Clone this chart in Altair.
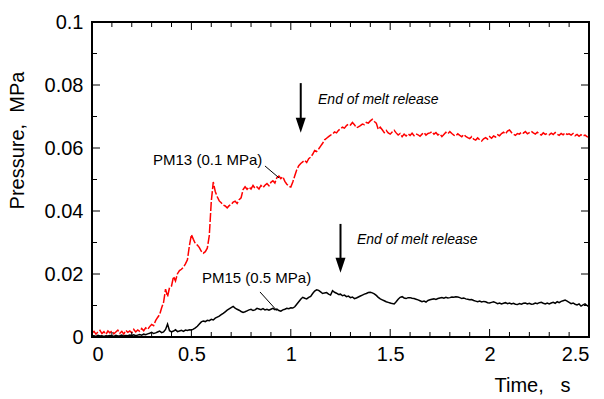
import altair as alt
import pandas as pd

# Sampling times of both pressure records, seconds
time_s = [round(i * 0.01, 2) for i in range(251)]

# PM13 (0.1 MPa) pressure, MPa
pm13 = [
    0.0012, 0.0018, 0.0009, 0.0016, 0.0021, 0.0011, 0.0017, 0.0008, 0.0019, 0.0013,
    0.0020, 0.0010, 0.0016, 0.0022, 0.0012, 0.0018, 0.0009, 0.0021, 0.0015, 0.0019,
    0.0013, 0.0024, 0.0016, 0.0022, 0.0018, 0.0027, 0.0020, 0.0029, 0.0024, 0.0033,
    0.0040, 0.0036, 0.0052, 0.0062, 0.0071, 0.0092, 0.0110, 0.0152, 0.0128, 0.0157,
    0.0162, 0.0192, 0.0178, 0.0201, 0.0211, 0.0215, 0.0222, 0.0232, 0.0245, 0.0290,
    0.0325, 0.0310, 0.0296, 0.0292, 0.0284, 0.0272, 0.0266, 0.0271, 0.0282, 0.0322,
    0.0430, 0.0492, 0.0462, 0.0445, 0.0432, 0.0426, 0.0419, 0.0416, 0.0410, 0.0417,
    0.0421, 0.0428, 0.0431, 0.0424, 0.0436, 0.0442, 0.0468, 0.0477, 0.0469, 0.0476,
    0.0470, 0.0481, 0.0472, 0.0476, 0.0470, 0.0481, 0.0474, 0.0482, 0.0487, 0.0480,
    0.0491, 0.0496, 0.0489, 0.0506, 0.0511, 0.0503, 0.0509, 0.0494, 0.0485, 0.0478,
    0.0476, 0.0492, 0.0512, 0.0531, 0.0544, 0.0551, 0.0556, 0.0561, 0.0554, 0.0566,
    0.0571, 0.0580, 0.0592, 0.0589, 0.0597, 0.0606, 0.0615, 0.0626, 0.0631, 0.0636,
    0.0641, 0.0644, 0.0651, 0.0648, 0.0656, 0.0661, 0.0666, 0.0663, 0.0671, 0.0676,
    0.0673, 0.0681, 0.0674, 0.0664, 0.0667, 0.0671, 0.0676, 0.0674, 0.0681, 0.0679,
    0.0686, 0.0691, 0.0684, 0.0679, 0.0659, 0.0666, 0.0658, 0.0649, 0.0656, 0.0648,
    0.0644, 0.0651, 0.0656, 0.0648, 0.0641, 0.0646, 0.0636, 0.0644, 0.0638, 0.0645,
    0.0640, 0.0647, 0.0639, 0.0645, 0.0642, 0.0637, 0.0644, 0.0649, 0.0641, 0.0646,
    0.0648, 0.0652, 0.0644, 0.0649, 0.0641, 0.0645, 0.0636, 0.0643, 0.0650, 0.0645,
    0.0652, 0.0646, 0.0641, 0.0638, 0.0645, 0.0640, 0.0636, 0.0643, 0.0637, 0.0633,
    0.0630, 0.0636, 0.0628, 0.0625, 0.0632, 0.0626, 0.0622, 0.0629, 0.0633, 0.0628,
    0.0636, 0.0631, 0.0638, 0.0635, 0.0642, 0.0639, 0.0646, 0.0650, 0.0645, 0.0654,
    0.0657, 0.0649, 0.0644, 0.0640, 0.0646, 0.0644, 0.0650, 0.0647, 0.0652, 0.0645,
    0.0649, 0.0653, 0.0648, 0.0644, 0.0650, 0.0645, 0.0641, 0.0648, 0.0643, 0.0646,
    0.0642, 0.0647, 0.0643, 0.0649, 0.0644, 0.0640, 0.0646, 0.0642, 0.0648, 0.0643,
    0.0645, 0.0641, 0.0646, 0.0639, 0.0643, 0.0637, 0.0642, 0.0638, 0.0641, 0.0636,
    0.0634,
]

# PM15 (0.5 MPa) pressure, MPa
pm15 = [
    0.0003, 0.0004, 0.0002, 0.0005, 0.0003, 0.0004, 0.0002, 0.0004, 0.0003, 0.0005,
    0.0004, 0.0002, 0.0005, 0.0003, 0.0004, 0.0006, 0.0003, 0.0005, 0.0004, 0.0006,
    0.0005, 0.0007, 0.0004, 0.0006, 0.0008, 0.0006, 0.0009, 0.0007, 0.0010, 0.0012,
    0.0015, 0.0011, 0.0013, 0.0016, 0.0019, 0.0014, 0.0016, 0.0024, 0.0041, 0.0020,
    0.0016, 0.0019, 0.0023, 0.0017, 0.0019, 0.0021, 0.0018, 0.0022, 0.0021, 0.0023,
    0.0022, 0.0025, 0.0029, 0.0034, 0.0041, 0.0048, 0.0051, 0.0049, 0.0053, 0.0052,
    0.0056, 0.0054, 0.0060, 0.0063, 0.0066, 0.0071, 0.0075, 0.0080, 0.0085, 0.0089,
    0.0093, 0.0097, 0.0092, 0.0088, 0.0085, 0.0081, 0.0078, 0.0080, 0.0083, 0.0086,
    0.0088, 0.0084, 0.0086, 0.0091, 0.0089, 0.0087, 0.0090, 0.0086, 0.0088, 0.0085,
    0.0088, 0.0091, 0.0087, 0.0089, 0.0084, 0.0082, 0.0086, 0.0088, 0.0091, 0.0090,
    0.0093, 0.0092, 0.0096, 0.0104, 0.0112, 0.0120, 0.0126, 0.0123, 0.0121, 0.0126,
    0.0129, 0.0138, 0.0146, 0.0150, 0.0148, 0.0143, 0.0138, 0.0140, 0.0141, 0.0136,
    0.0133, 0.0147, 0.0142, 0.0139, 0.0135, 0.0136, 0.0131, 0.0133, 0.0128, 0.0130,
    0.0125, 0.0127, 0.0122, 0.0124, 0.0127, 0.0130, 0.0133, 0.0136, 0.0138, 0.0141,
    0.0142, 0.0140, 0.0137, 0.0132, 0.0126, 0.0121, 0.0118, 0.0115, 0.0112, 0.0110,
    0.0108, 0.0106, 0.0105, 0.0112, 0.0120, 0.0126, 0.0128, 0.0124, 0.0122, 0.0125,
    0.0125, 0.0123, 0.0122, 0.0120, 0.0118, 0.0115, 0.0112, 0.0114, 0.0111, 0.0116,
    0.0118, 0.0120, 0.0121, 0.0119, 0.0122, 0.0124, 0.0125, 0.0123, 0.0126, 0.0124,
    0.0125, 0.0127, 0.0126, 0.0128, 0.0127, 0.0125, 0.0122, 0.0124, 0.0121, 0.0120,
    0.0118, 0.0119, 0.0116, 0.0114, 0.0112, 0.0114, 0.0111, 0.0113, 0.0112, 0.0109,
    0.0108, 0.0110, 0.0112, 0.0109, 0.0106, 0.0108, 0.0105, 0.0107, 0.0109, 0.0106,
    0.0108, 0.0105, 0.0107, 0.0104, 0.0103, 0.0106, 0.0104, 0.0107, 0.0108, 0.0105,
    0.0107, 0.0104, 0.0105, 0.0108, 0.0106, 0.0109, 0.0110, 0.0107, 0.0105, 0.0108,
    0.0105, 0.0108, 0.0110, 0.0107, 0.0112, 0.0109, 0.0113, 0.0115, 0.0117, 0.0114,
    0.0110, 0.0106, 0.0108, 0.0104, 0.0102, 0.0105, 0.0098, 0.0102, 0.0105, 0.0100,
    0.0096,
]

# Axis ticks
x_major = [0, 0.5, 1, 1.5, 2, 2.5]
x_minor = [0.1, 0.2, 0.3, 0.4, 0.6, 0.7, 0.8, 0.9, 1.1, 1.2, 1.3, 1.4,
           1.6, 1.7, 1.8, 1.9, 2.1, 2.2, 2.3, 2.4]
y_major = [0, 0.02, 0.04, 0.06, 0.08, 0.1]
y_minor = [0.01, 0.03, 0.05, 0.07, 0.09]

# Annotations: "end of melt release" arrows (time, shaft top, head base, head centre)
arrow_t = [1.05, 1.25]
arrow_top = [0.0806, 0.0359]
arrow_base = [0.0690, 0.0250]
arrow_head = [0.0672, 0.0228]
note_t = [1.137, 1.333]
note_p = [0.0752, 0.0308]
note_text = ["End of melt release", "End of melt release"]

# Curve labels and their leader lines
label_t = [0.307, 0.553]
label_p = [0.0562, 0.0187]
label_text = ["PM13 (0.1 MPa)", "PM15 (0.5 MPa)"]
leader_t1 = [0.870, 0.845]
leader_p1 = [0.0543, 0.0143]
leader_t2 = [0.941, 0.931]
leader_p2 = [0.0505, 0.0083]

W, H = 497, 315
FONT = "Liberation Sans"

xs = alt.Scale(domain=[0, 2.5], nice=False, zero=False)
ys = alt.Scale(domain=[0, 0.1], nice=False, zero=False)

red_df = pd.DataFrame({"t": time_s, "p": pm13})
black_df = pd.DataFrame({"t": time_s, "p": pm15})

x_axis = alt.Axis(
    values=x_major, format="~g", ticks=False, domain=False, grid=False,
    labelFont=FONT, labelFontSize=20, labelColor="black", labelPadding=7,
    title="Time,\u00a0\u00a0\u00a0s", titleFont=FONT, titleFontSize=20,
    titleFontWeight="normal", titleColor="black", titleX=440, titleY=48,
    titleAlign="center", titleBaseline="middle",
)
y_axis = alt.Axis(
    values=y_major, format="~g", ticks=False, domain=False, grid=False,
    labelFont=FONT, labelFontSize=20, labelColor="black", labelPadding=9,
    title="Pressure,\u00a0\u00a0MPa", titleFont=FONT, titleFontSize=20,
    titleFontWeight="normal", titleColor="black", titleX=-75, titleY=118,
    titleAngle=-90, titleAlign="center", titleBaseline="middle",
)

red_line = alt.Chart(red_df).mark_line(
    color="#ff0000", strokeWidth=1.5, strokeDash=[9, 2]
).encode(x=alt.X("t:Q", scale=xs, axis=x_axis), y=alt.Y("p:Q", scale=ys, axis=y_axis))

black_line = alt.Chart(black_df).mark_line(
    color="black", strokeWidth=1.5
).encode(x=alt.X("t:Q", scale=xs), y=alt.Y("p:Q", scale=ys))

# Plot frame drawn as an outlined rectangle over the whole plot area
frame = alt.Chart(pd.DataFrame({"k": [0]})).mark_rect(
    filled=False, stroke="black", strokeWidth=2
).encode(x=alt.value(0), x2=alt.value(W), y=alt.value(0), y2=alt.value(H))


def x_ticks(vals, length):
    d = pd.DataFrame({"v": vals})
    base = alt.Chart(d).mark_rule(color="black", strokeWidth=1)
    bottom = base.encode(x=alt.X("v:Q", scale=xs), y=alt.value(H), y2=alt.value(H - length))
    top = base.encode(x=alt.X("v:Q", scale=xs), y=alt.value(0), y2=alt.value(length))
    return [bottom, top]


def y_ticks(vals, length):
    d = pd.DataFrame({"v": vals})
    base = alt.Chart(d).mark_rule(color="black", strokeWidth=1)
    left = base.encode(y=alt.Y("v:Q", scale=ys), x=alt.value(0), x2=alt.value(length))
    right = base.encode(y=alt.Y("v:Q", scale=ys), x=alt.value(W), x2=alt.value(W - length))
    return [left, right]


ticks = x_ticks(x_major, 8) + x_ticks(x_minor, 5) + y_ticks(y_major, 8) + y_ticks(y_minor, 5)

arrow_df = pd.DataFrame({"t": arrow_t, "top": arrow_top, "base": arrow_base, "head": arrow_head})
shafts = alt.Chart(arrow_df).mark_rule(color="black", strokeWidth=2).encode(
    x=alt.X("t:Q", scale=xs), y=alt.Y("top:Q", scale=ys), y2="base:Q"
)
heads = alt.Chart(arrow_df).mark_point(
    shape="M-0.667,-1L0.667,-1L0,1Z", size=225, filled=True, color="black", opacity=1
).encode(x=alt.X("t:Q", scale=xs), y=alt.Y("head:Q", scale=ys))

notes = alt.Chart(pd.DataFrame({"t": note_t, "p": note_p, "s": note_text})).mark_text(
    font=FONT, fontSize=14, fontStyle="italic", align="left", baseline="middle", color="black"
).encode(x=alt.X("t:Q", scale=xs), y=alt.Y("p:Q", scale=ys), text="s:N")

labels = alt.Chart(pd.DataFrame({"t": label_t, "p": label_p, "s": label_text})).mark_text(
    font=FONT, fontSize=15, align="left", baseline="middle", color="black"
).encode(x=alt.X("t:Q", scale=xs), y=alt.Y("p:Q", scale=ys), text="s:N")

leaders = alt.Chart(pd.DataFrame({
    "t1": leader_t1, "p1": leader_p1, "t2": leader_t2, "p2": leader_p2
})).mark_rule(color="black", strokeWidth=1).encode(
    x=alt.X("t1:Q", scale=xs), y=alt.Y("p1:Q", scale=ys), x2="t2:Q", y2="p2:Q"
)

chart = alt.layer(
    red_line, black_line, frame, *ticks, shafts, heads, notes, labels, leaders
).properties(
    width=W, height=H,
    autosize=alt.AutoSizeParams(type="none"),
    padding={"left": 92, "top": 22, "right": 15, "bottom": 62},
).configure_view(
    strokeWidth=0
).configure(background="white")

chart.save("out.html", embed_options={"renderer": "svg", "actions": False})
